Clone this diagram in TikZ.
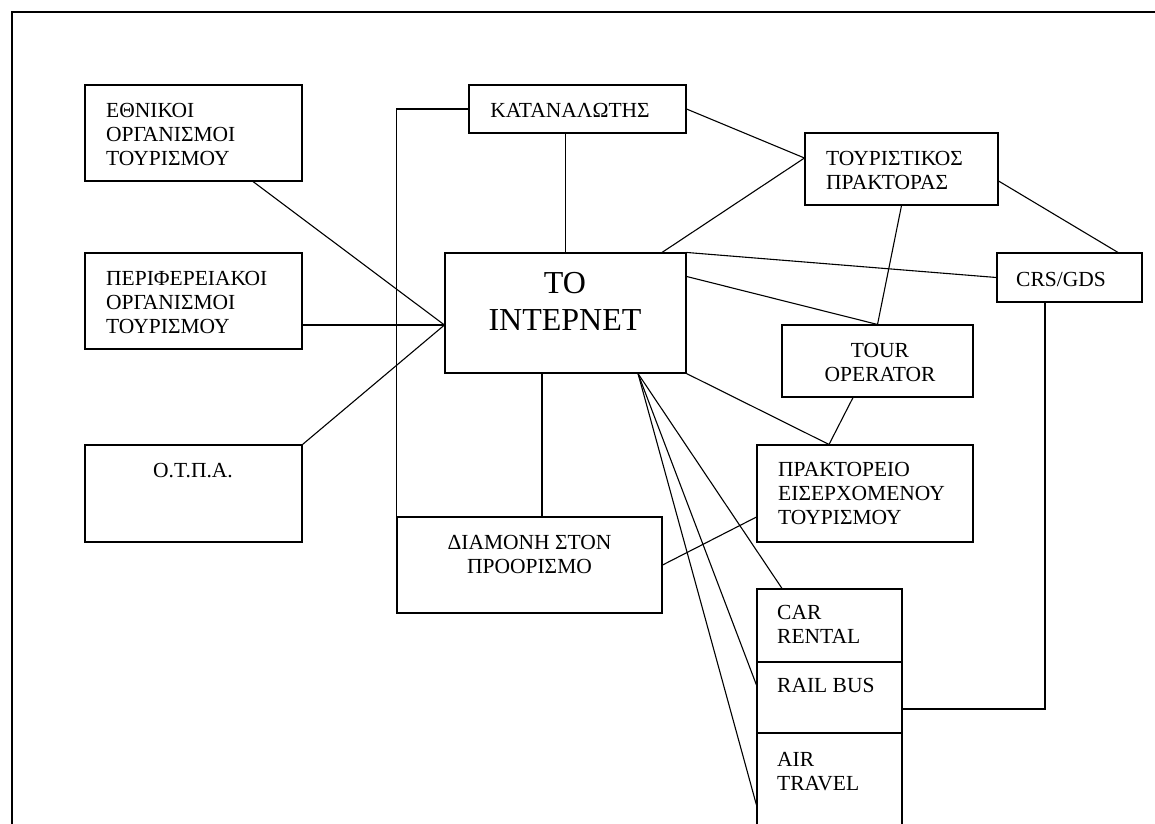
\documentclass[tikz,border=0pt]{standalone}
\usepackage{fontspec}
\setmainfont{Liberation Serif}

\begin{document}
\begin{tikzpicture}[x=1pt,y=-1pt,
  box/.style={draw, line width=1.1pt, inner sep=0pt},
  txt/.style={inner sep=0pt, align=left, font=\fontsize{21.5}{24}\selectfont},
  link/.style={line width=1.1pt}]
\useasboundingbox (0,0) rectangle (1155,823);
\clip (0,0) rectangle (1155,823);
%frame
\draw[line width=1.8pt] (12,12) rectangle (1180,850);
%left boxes
\node[box, minimum width=217pt, minimum height=96pt] (nat) at (193.5,133) {};
\node[txt, anchor=west] (natT) at (106,134.5) {ΕΘΝΙΚΟΙ\\ΟΡΓΑΝΙΣΜΟΙ\\ΤΟΥΡΙΣΜΟΥ};
\node[box, minimum width=217pt, minimum height=96pt] (reg) at (193.5,301) {};
\node[txt, anchor=west] (regT) at (106,302) {ΠΕΡΙΦΕΡΕΙΑΚΟΙ\\ΟΡΓΑΝΙΣΜΟΙ\\ΤΟΥΡΙΣΜΟΥ};
\node[box, minimum width=217pt, minimum height=97pt] (otpa) at (193.5,493.5) {};
\node[txt] (otpaT) at (193,471) {Ο.Τ.Π.Α.};
%middle
\node[box, minimum width=217pt, minimum height=48pt] (kat) at (577.5,109) {};
\node[txt] (katT) at (570,110) {ΚΑΤΑΝΑΛΩΤΗΣ};
\node[box, minimum width=241pt, minimum height=120pt] (inet) at (565.5,313) {};
\node[txt, align=center, font=\fontsize{32}{37}\selectfont] (inetT) at (565,301.5) {ΤΟ\\ΙΝΤΕΡΝΕΤ};
\node[box, minimum width=265pt, minimum height=96pt] (dia) at (529.5,565) {};
\node[txt, align=center] (diaT) at (529.5,554) {ΔΙΑΜΟΝΗ ΣΤΟΝ\\ΠΡΟΟΡΙΣΜΟ};
%right boxes
\node[box, minimum width=193pt, minimum height=72pt] (agent) at (901.5,169) {};
\node[txt, anchor=west] (agentT) at (826,170.5) {ΤΟΥΡΙΣΤΙΚΟΣ\\ΠΡΑΚΤΟΡΑΣ};
\node[box, minimum width=145pt, minimum height=49pt] (crs) at (1069.5,277.5) {};
\node[txt] (crsT) at (1061,279) {CRS/GDS};
\node[box, minimum width=191pt, minimum height=72pt] (oper) at (877.5,361) {};
\node[txt, align=center] (operT) at (880,362.5) {TOUR\\OPERATOR};
\node[box, minimum width=216pt, minimum height=97pt] (inc) at (865,493.5) {};
\node[txt, anchor=west] (incT) at (778,493.5) {ΠΡΑΚΤΟΡΕΙΟ\\ΕΙΣΕΡΧΟΜΕΝΟΥ\\ΤΟΥΡΙΣΜΟΥ};
%transport stack
\node[box, minimum width=145pt, minimum height=73pt] (car) at (829.5,625.5) {};
\node[txt, anchor=west] (carT) at (777,624) {CAR\\RENTAL};
\node[box, minimum width=145pt, minimum height=71pt] (rail) at (829.5,697.5) {};
\node[txt, anchor=west] (railT) at (777,685) {RAIL BUS};
\node[box, minimum width=145pt, minimum height=110pt] (air) at (829.5,788) {};
\node[txt, anchor=west] (airT) at (777,771.5) {AIR\\TRAVEL};
%links to the internet
\draw[link] ([xshift=59.5pt]nat.south) -- ([yshift=-12pt]inet.west);
\draw[link] ([yshift=-24pt]reg.east) -- ([yshift=-12pt]inet.west);
\draw[link] (otpa.north east) -- ([yshift=-12pt]inet.west);
\draw[link] (kat.south -| inet.north) -- (inet.north);
\draw[link] (kat.west) -| (dia.north west);
\draw[link] (kat.east) -- ([yshift=11pt]agent.west);
\draw[link] ([xshift=96.5pt]inet.north) -- ([yshift=11pt]agent.west);
\draw[link] (inet.north east) -- (crs.west);
\draw[link] ([yshift=-24pt]inet.north east) -- (oper.north);
\draw[link] (agent.south) -- (oper.north);
\draw[link] ([yshift=-12pt]agent.east) -- ([xshift=48.5pt]crs.north);
\draw[link] ([xshift=-24.5pt]crs.south) |- ([yshift=-11.5pt]rail.east);
\draw[link] ([xshift=-24.5pt]oper.south) -- ([xshift=-36pt]inc.north);
\draw[link] (inet.south east) -- ([xshift=-36pt]inc.north);
\draw[link] (dia.east) -- ([yshift=-23.5pt]inc.west);
\draw[link] ([xshift=-23.5pt]inet.south) -- ([xshift=12.5pt]dia.north);
%fan to transport
\coordinate (fan) at ([xshift=72.5pt]inet.south);
\draw[link] (fan) -- ([xshift=-47.5pt]car.north);
\draw[link] (fan) -- ([yshift=12.5pt]rail.west);
\draw[link] (fan) -- ([yshift=-17pt]air.west);
\end{tikzpicture}
\end{document}
